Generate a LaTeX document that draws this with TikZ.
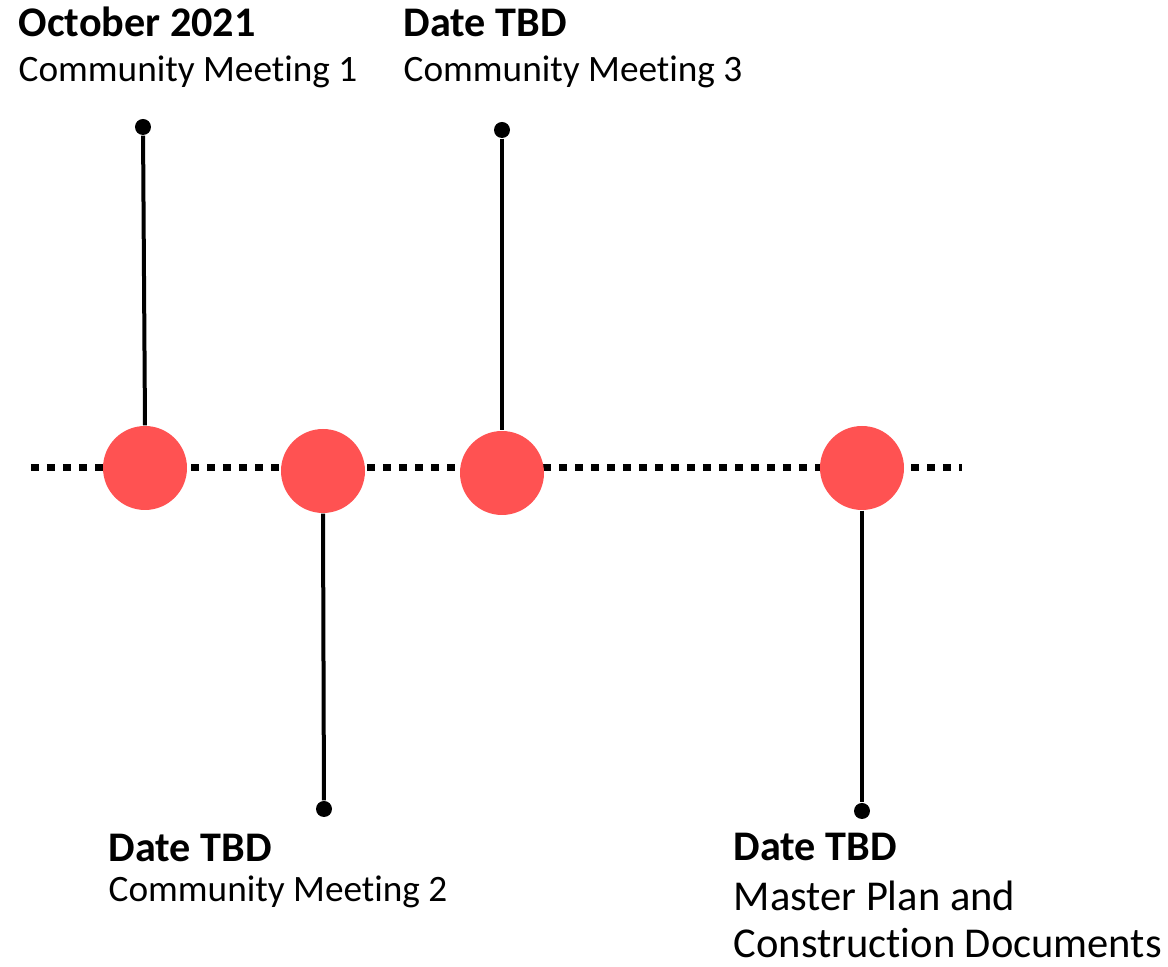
\documentclass[tikz,border=0pt]{standalone}
\usepackage{fontspec}
\setmainfont{Carlito}[RawFeature={-liga;-clig;-calt;-dlig}]
\usetikzlibrary{positioning}
\definecolor{pinred}{RGB}{255,82,82}
\tikzstyle{event}   = [circle, fill=pinred, minimum size=0.84cm, inner sep=0pt]
\tikzstyle{pin}     = [circle, fill=black, minimum size=0.16cm, inner sep=0pt]
\tikzstyle{stem}    = [line width=0.04cm]
\tikzstyle{track}   = [line width=0.07cm, dash pattern=on 0.08cm off 0.08cm]
\tikzstyle{datelbl} = [anchor=base west, inner sep=0pt, font=\fontsize{12}{14}\selectfont\bfseries]
\tikzstyle{desclbl} = [anchor=base west, inner sep=0pt, font=\fontsize{10.6}{12}\selectfont]
\tikzstyle{planlbl} = [anchor=base west, inner sep=0pt, font=\fontsize{12.1}{14}\selectfont]

\begin{document}
\begin{tikzpicture}
        \useasboundingbox (0,0) rectangle (11.68,9.67);

        \coordinate (tl) at (0.31,4.99);
        \coordinate (tr) at (9.62,4.99);
        \draw[track] (tl) -- (tr);

        \node[event] (e1) at (1.45,4.99) {};
        \node[event] (e2) at (3.23,4.96) {};
        \node[event] (e3) at (5.02,4.94) {};
        \node[event] (e4) at (8.62,4.99) {};

        \node[pin] (p1) at (1.43,8.40) {};
        \node[pin] (p2) at (3.24,1.58) {};
        \node[pin] (p3) at (5.02,8.37) {};
        \node[pin] (p4) at (8.62,1.56) {};

        \draw[stem] (p1) -- (e1.north);
        \draw[stem] (e2.south) -- (p2);
        \draw[stem] (p3) -- (e3.north);
        \draw[stem] (e4.south) -- (p4);

        \node[datelbl] (d1) at (0.18,9.30) {October 2021};
        \node[desclbl] (m1) at (0.18,8.85) {Community Meeting 1};
        \node[datelbl] (d3) at (4.03,9.30) {Date TBD};
        \node[desclbl] (m3) at (4.03,8.85) {Community Meeting 3};
        \node[datelbl] (d2) at (1.08,1.05) {Date TBD};
        \node[desclbl] (m2) at (1.08,0.65) {Community Meeting 2};
        \node[datelbl] (d4) at (7.33,1.06) {Date TBD};
        \node[planlbl] (m4a) at (7.33,0.56) {Master Plan and};
        \node[planlbl] (m4b) at (7.33,0.09) {Construction Documents};
    \end{tikzpicture}
\end{document}
